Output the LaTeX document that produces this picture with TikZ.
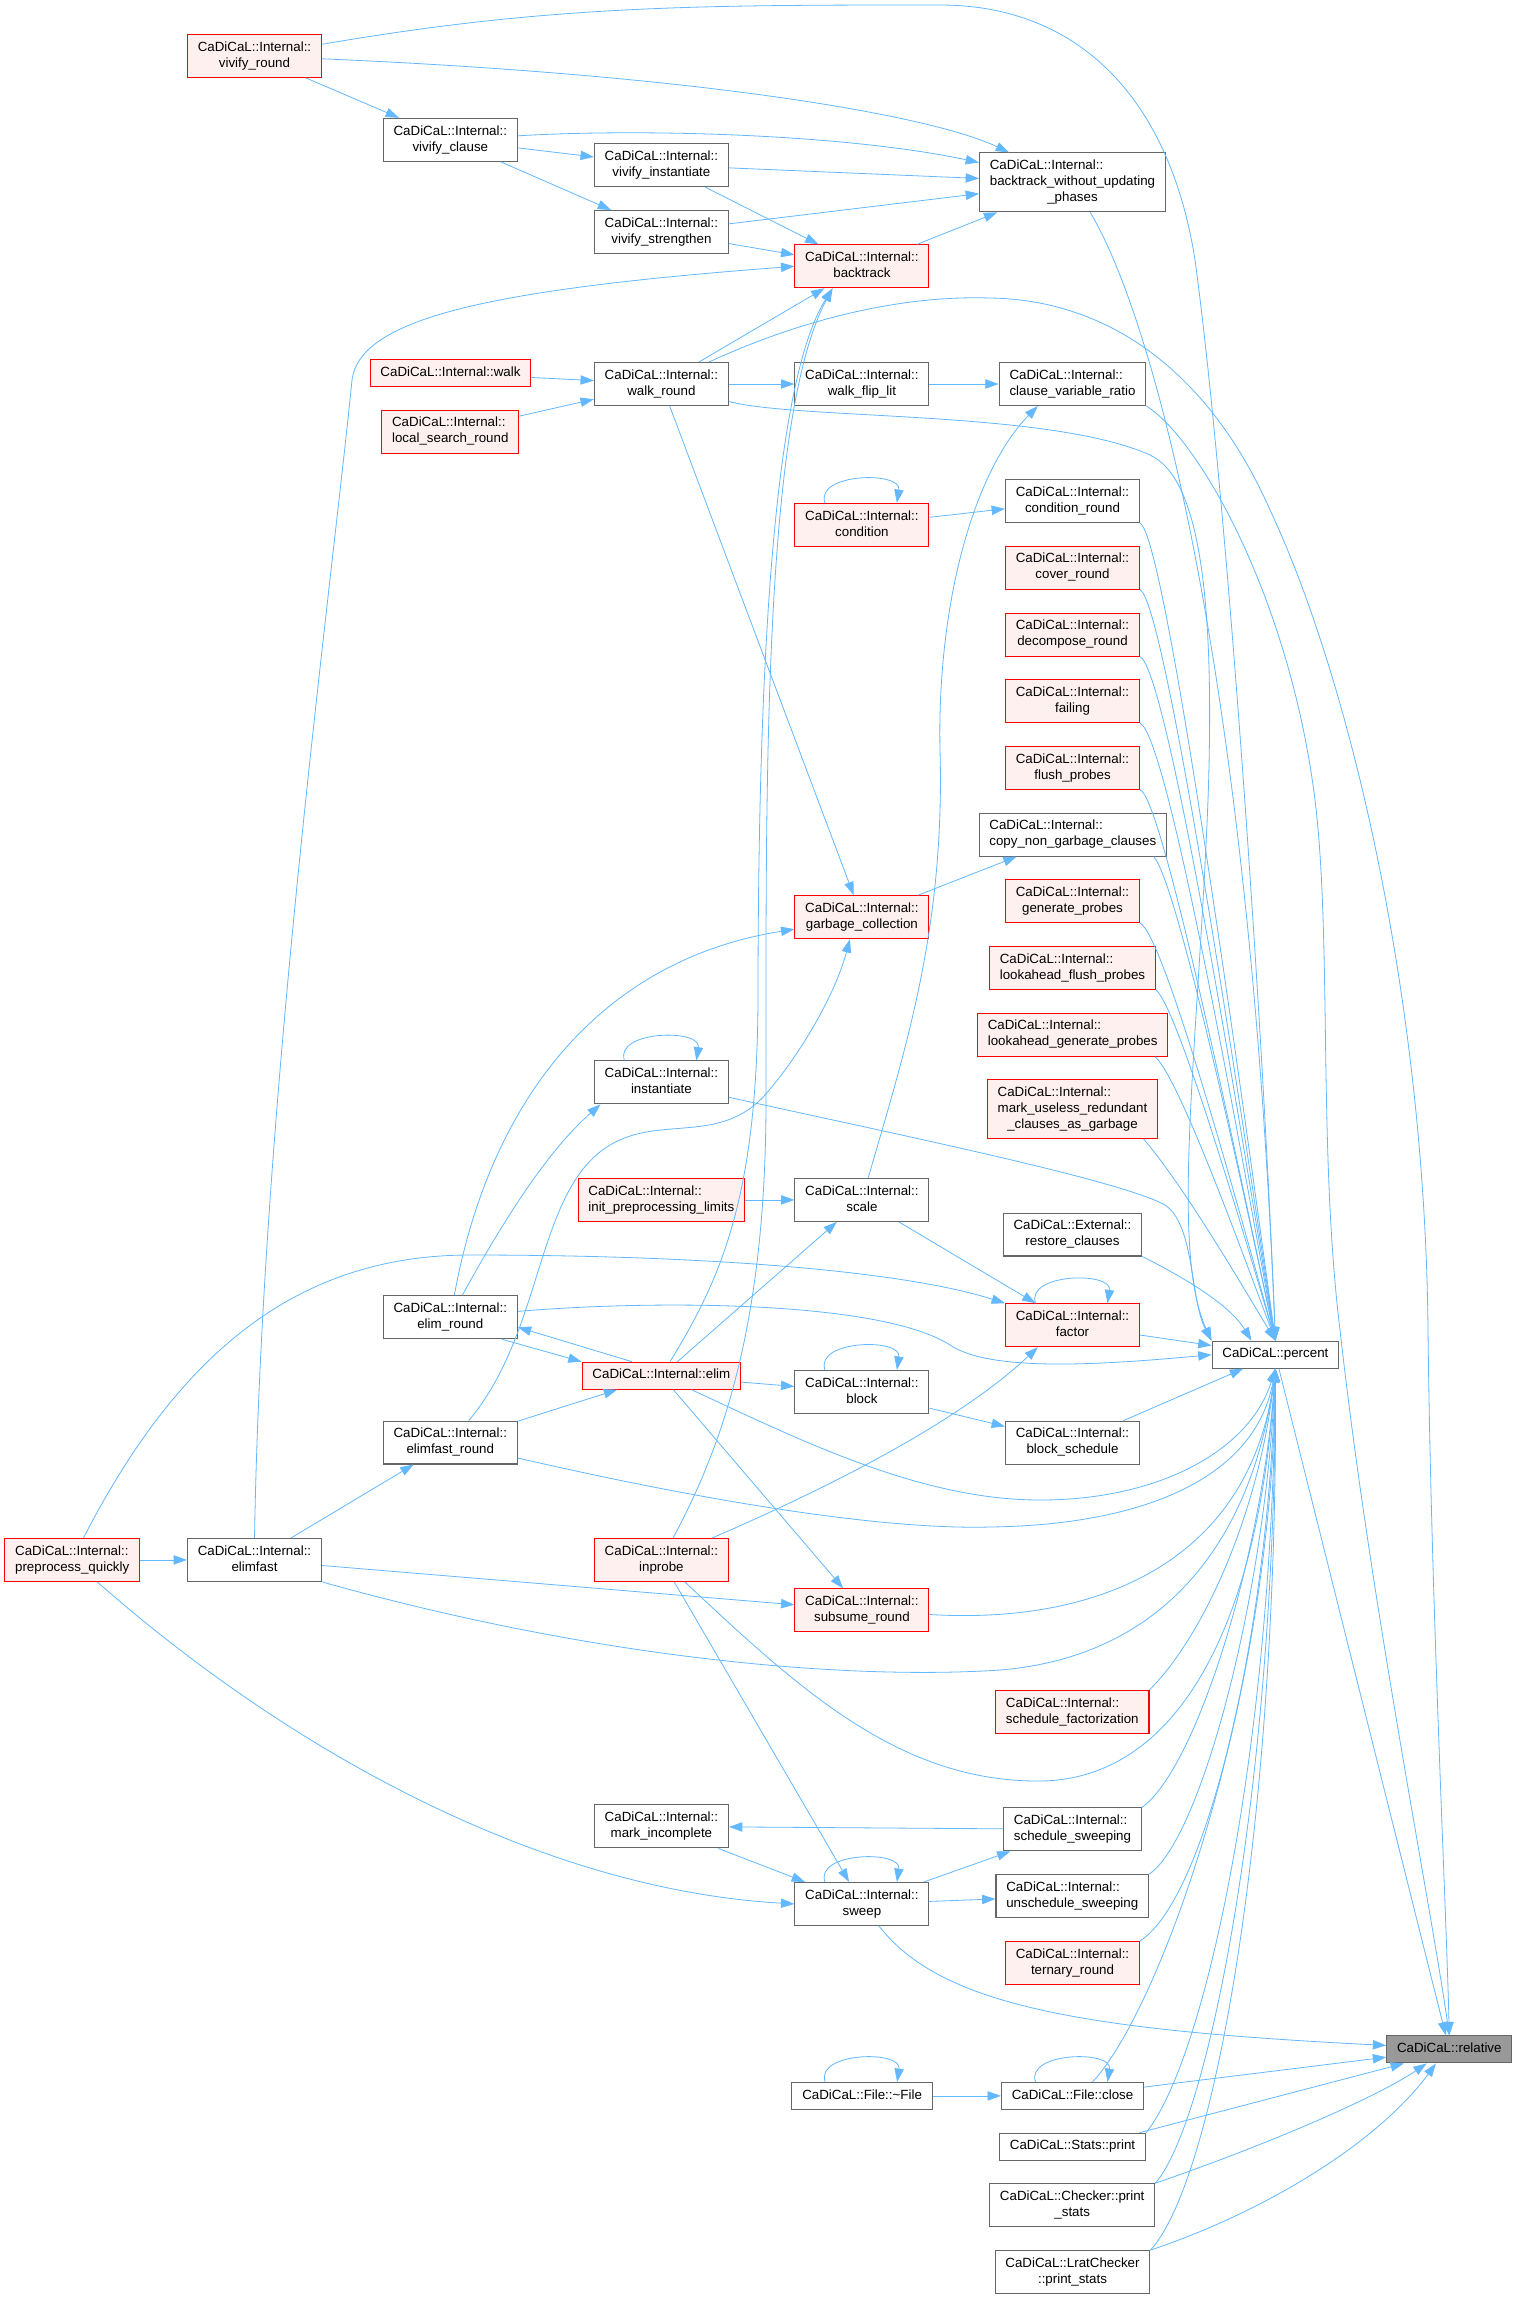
\documentclass[tikz,border=0pt]{standalone}
\usepackage{fontspec}
\setmainfont{Liberation Sans}
\usetikzlibrary{arrows.meta}
\definecolor{edgeblue}{HTML}{63B8FF}
\definecolor{boxgray}{HTML}{666666}
\definecolor{hotred}{HTML}{FF0000}
\definecolor{hotfill}{HTML}{FFF0F0}
\definecolor{rootgray}{HTML}{999999}
\newcommand{\fnlabel}[2]{\begin{tabular}{@{}l@{}}#1\\\multicolumn{1}{@{}c@{}}{#2}\end{tabular}}
\newcommand{\fnone}[1]{\begin{tabular}{@{}c@{}}#1\end{tabular}}
\newcommand{\cadint}[1]{\fnlabel{CaDiCaL::Internal::}{#1}}
\begin{document}
\begin{tikzpicture}[x=0.75pt, y=-0.75pt,
fn/.style={draw=boxgray, fill=white, line width=0.8pt, inner xsep=7.75pt, inner ysep=4.1pt, font=\fontsize{10}{12}\selectfont},
hot/.style={fn, draw=hotred, fill=hotfill},
root/.style={fn, fill=rootgray},
call/.style={draw=edgeblue, line width=0.6pt, -{Triangle[length=10pt,width=7pt]}}
]
\path[use as bounding box, fill=white] (0,0) rectangle (1517,2299);

\node[hot] (vround) at (254.5,55.9) {\cadint{vivify\_round}};
\node[fn] (vclause) at (450.3,139.8) {\cadint{vivify\_clause}};
\node[fn] (vinst) at (661.4,165) {\cadint{vivify\_instantiate}};
\node[fn] (vstren) at (661.4,232) {\cadint{vivify\_strengthen}};
\node[fn] (btwup) at (1072.5,182.4) {\fnlabel{CaDiCaL::Internal::\\backtrack\_without\_updating}{\_phases}};
\node[hot] (backtrack) at (861.9,266.3) {\cadint{backtrack}};
\node[hot] (walk) at (450.5,373.4) {\fnone{CaDiCaL::Internal::walk}};
\node[hot] (lsround) at (450.3,431.7) {\cadint{local\_search\_round}};
\node[fn] (walkround) at (661.4,384) {\cadint{walk\_round}};
\node[fn] (flip) at (861.9,384) {\cadint{walk\_flip\_lit}};
\node[fn] (cvr) at (1072.5,384) {\cadint{clause\_variable\_ratio}};
\node[hot] (condition) at (861.9,524.9) {\cadint{condition}};
\node[fn] (condround) at (1072.5,501.2) {\cadint{condition\_round}};
\node[hot] (cover) at (1072.5,567.6) {\cadint{cover\_round}};
\node[hot] (decomp) at (1072.5,634.7) {\cadint{decompose\_round}};
\node[hot] (failing) at (1072.5,701.2) {\cadint{failing}};
\node[hot] (flush) at (1072.5,767.8) {\cadint{flush\_probes}};
\node[fn] (copyng) at (1072.8,834.6) {\cadint{copy\_non\_garbage\_clauses}};
\node[hot] (gc) at (861.9,917.2) {\cadint{garbage\_collection}};
\node[hot] (genprobes) at (1072.5,901) {\cadint{generate\_probes}};
\node[hot] (laflush) at (1072.5,968) {\cadint{lookahead\_flush\_probes}};
\node[hot] (lagen) at (1072.7,1034.7) {\cadint{lookahead\_generate\_probes}};
\node[hot] (markuseless) at (1072.5,1109) {\fnlabel{CaDiCaL::Internal::\\mark\_useless\_redundant}{\_clauses\_as\_garbage}};
\node[fn] (instantiate) at (661.4,1082.4) {\cadint{instantiate}};
\node[hot] (initlimits) at (661.4,1199.9) {\cadint{init\_preprocessing\_limits}};
\node[fn] (scale) at (861.9,1199.9) {\cadint{scale}};
\node[fn] (restore) at (1072.5,1234.5) {\fnlabel{CaDiCaL::External::}{restore\_clauses}};
\node[hot] (factor) at (1072.5,1325.2) {\cadint{factor}};
\node[fn] (percent) at (1275.4,1354.7) {\fnone{CaDiCaL::percent}};
\node[fn] (elimround) at (450.3,1317.2) {\cadint{elim\_round}};
\node[hot] (elim) at (661.4,1375.7) {\fnone{CaDiCaL::Internal::elim}};
\node[fn] (block) at (861.9,1391.8) {\cadint{block}};
\node[fn] (blocksched) at (1072.5,1442.7) {\cadint{block\_schedule}};
\node[fn] (elimfastround) at (450.3,1442.5) {\cadint{elimfast\_round}};
\node[hot] (pquick) at (72.2,1559.9) {\cadint{preprocess\_quickly}};
\node[fn] (elimfast) at (254.5,1559.9) {\cadint{elimfast}};
\node[hot] (inprobe) at (661.4,1559.9) {\cadint{inprobe}};
\node[hot] (subsume) at (861.9,1610.3) {\cadint{subsume\_round}};
\node[hot] (schedfact) at (1072.3,1711.8) {\cadint{schedule\_factorization}};
\node[fn] (markinc) at (661.4,1826.4) {\cadint{mark\_incomplete}};
\node[fn] (schedsweep) at (1072.5,1829.3) {\cadint{schedule\_sweeping}};
\node[fn] (sweep) at (861.9,1903.9) {\cadint{sweep}};
\node[fn] (unschedsweep) at (1072.3,1896.1) {\cadint{unschedule\_sweeping}};
\node[hot] (ternary) at (1072.5,1962.8) {\cadint{ternary\_round}};
\node[root] (relative) at (1449.3,2049.4) {\fnone{CaDiCaL::relative}};
\node[fn] (dtor) at (862.1,2095.9) {\fnone{CaDiCaL::File::\textasciitilde File}};
\node[fn] (close) at (1072.5,2095.9) {\fnone{CaDiCaL::File::close}};
\node[fn] (statsprint) at (1072.5,2146.7) {\fnone{CaDiCaL::Stats::print}};
\node[fn] (checker) at (1072.2,2205.2) {\fnlabel{CaDiCaL::Checker::print}{\_stats}};
\node[fn] (lrat) at (1072.5,2272.1) {\fnlabel{CaDiCaL::LratChecker}{::print\_stats}};

\foreach \n in {condition,instantiate,factor,block,sweep,dtor,close}
  \draw[call] ([xshift=-27.75pt]\n.north) .. controls +(-10,-30) and +(5,-32) .. ([xshift=26.25pt]\n.north);

\draw[call] (vround) -- (vclause);
\draw[call] (vround) .. controls (700,75) and (930,115) .. (btwup);
\draw[call] (vround) .. controls (550,5) and (700,5) .. (940,5) .. controls (1080,5) and (1170,100) .. (1195,260) .. controls (1225,480) and (1262,1000) .. (percent.north);
\draw[call] (vclause) -- (vinst);
\draw[call] (vclause) -- (vstren);
\draw[call] (vclause) .. controls (650,128) and (850,135) .. (btwup);
\draw[call] (vinst) -- (btwup);
\draw[call] (vinst) -- (backtrack);
\draw[call] (vstren) -- (btwup);
\draw[call] (vstren) -- (backtrack);
\draw[call] (backtrack) -- (btwup);
\draw[call] (btwup) .. controls (1160,330) and (1250,700) .. (percent.north);

\draw[call] (walk) -- (walkround);
\draw[call] (lsround) -- (walkround);
\draw[call] (walkround) -- (backtrack);
\draw[call] (walkround) -- (flip);
\draw[call] (walkround) -- (gc);
\draw[call] (flip) -- (cvr);
\draw[call] (walkround) .. controls (800,320) and (900,295) .. (990,298) .. controls (1120,300) and (1215,385) .. (1270,510) .. controls (1350,680) and (1425,1000) .. (1428,1330) .. controls (1431,1600) and (1446,1900) .. (relative.north);
\draw[call] (walkround) .. controls (800,420) and (1050,410) .. (1150,455) .. controls (1200,478) and (1215,600) .. (1208,800) .. controls (1198,1050) and (1170,1250) .. (percent.north west);
\draw[call] (cvr.south east) .. controls (1200,440) and (1290,600) .. (1315,800) .. controls (1332,940) and (1318,1150) .. (1340,1330) .. controls (1370,1600) and (1430,1900) .. (relative.north);

\draw[call] (condition) -- (condround);
\draw[call] (condround.south east) .. controls (1165,536) and (1237,1059) .. (percent.north);
\draw[call] (cover.south east) .. controls (1165,603) and (1237,1083) .. (percent.north);
\draw[call] (decomp.south east) .. controls (1167,670) and (1237,1106) .. (percent.north);
\draw[call] (failing.south east) .. controls (1167,735) and (1237,1129) .. (percent.north);
\draw[call] (flush.south east) .. controls (1162,797) and (1235,1151) .. (percent.north);
\draw[call] ([xshift=-10pt]copyng.south east) .. controls (1177,882) and (1241,1180) .. (percent.north);
\draw[call] (genprobes.south east) .. controls (1164,936) and (1236,1199) .. (percent.north);
\draw[call] (laflush.south east) .. controls (1177,1007) and (1241,1224) .. (percent.north);
\draw[call] ([xshift=-10pt]lagen.south east) .. controls (1179,1078) and (1241,1249) .. (percent.north);
\draw[call] ([xshift=-11pt]markuseless.south east) .. controls (1184,1186) and (1243,1287) .. (percent.north);

\draw[call] (gc) -- (copyng);
\draw[call] (elimround) .. controls (490,1100) and (600,960) .. ([yshift=-9pt]gc.west);
\draw[call] (elimfastround) .. controls (545,1330) and (535,1190) .. (610,1145) .. controls (660,1115) and (720,1145) .. (765,1095) .. controls (800,1055) and (835,995) .. ([xshift=-9pt]gc.south);
\draw[call] (elimround) .. controls (520,1190) and (560,1140) .. ([xshift=5pt]instantiate.south west);
\draw[call] (instantiate) .. controls (900,1135) and (1120,1180) .. (1165,1205) .. controls (1195,1225) and (1190,1300) .. (percent.north west);

\draw[call] (initlimits) -- (scale);
\draw[call] (scale) .. controls (905,1050) and (945,930) .. (940,750) .. controls (937,600) and (975,470) .. ([xshift=-26pt]cvr.south);
\draw[call] (scale) -- (factor);
\draw[call] (restore.south east) .. controls (1185,1278) and (1230,1305) .. ([xshift=-18pt]percent.north);
\draw[call] (factor) -- (percent);
\draw[call] (pquick) .. controls (180,1350) and (300,1255) .. (470,1255) .. controls (700,1255) and (900,1270) .. (factor.north west);
\draw[call] (inprobe) .. controls (800,1500) and (950,1430) .. ([xshift=-26pt]factor.south);

\draw[call] ([xshift=-12pt]elimround.south east) -- (elim.north west);
\draw[call] ([xshift=-22pt]elim.north) -- ([yshift=-7.5pt]elimround.east);
\draw[call] (elimround) .. controls (650,1300) and (880,1300) .. (950,1345) .. controls (990,1372) and (1100,1365) .. (percent.west);
\draw[call] (elimfastround) -- (elim);
\draw[call] (elim) -- (scale);
\draw[call] (elim) -- (block);
\draw[call] (elim) -- (subsume);
\draw[call] (elim) .. controls (720,1280) and (757,1200) .. (758,1000) .. controls (758,650) and (775,380) .. ([xshift=-22pt]backtrack.south);
\draw[call] (elim) .. controls (800,1440) and (920,1500) .. (1040,1500) .. controls (1160,1500) and (1250,1450) .. (percent.south);

\draw[call] (pquick) -- (elimfast);
\draw[call] (elimfast) -- (elimfastround);
\draw[call] (elimfast) -- (subsume);
\draw[call] (elimfast.north) .. controls (262,1100) and (330,600) .. (352,380) .. controls (360,320) and (480,290) .. (backtrack.west);
\draw[call] (elimfast.south east) .. controls (600,1660) and (850,1680) .. (1000,1670) .. controls (1180,1655) and (1255,1520) .. (percent.south);
\draw[call] (elimfastround) .. controls (700,1500) and (880,1530) .. (990,1527) .. controls (1140,1525) and (1255,1480) .. (percent.south);

\draw[call] (block) -- (blocksched);
\draw[call] (blocksched) -- (percent);

\draw[call] (inprobe) .. controls (720,1450) and (766,1330) .. (766,1100) .. controls (766,800) and (762,420) .. ([xshift=-22pt]backtrack.south);
\draw[call] (inprobe) -- (sweep);
\draw[call] (inprobe) .. controls (800,1690) and (900,1782) .. (1040,1781) .. controls (1170,1780) and (1258,1640) .. (percent.south);
\draw[call] (subsume) .. controls (1100,1625) and (1250,1560) .. (percent.south);
\draw[call] (schedfact.north east) .. controls (1200,1640) and (1258,1520) .. (percent.south);

\draw[call] (pquick) .. controls (300,1760) and (550,1890) .. (sweep.west);
\draw[call] (markinc) -- (sweep);
\draw[call] (schedsweep) -- (markinc);
\draw[call] (sweep) -- (schedsweep);
\draw[call] (sweep) -- (unschedsweep);
\draw[call] (sweep) .. controls (940,2005) and (1080,2030) .. ([yshift=3pt]relative.west);
\draw[call] (schedsweep.north east) .. controls (1195,1770) and (1262,1560) .. (percent.south);
\draw[call] (unschedsweep.north east) .. controls (1200,1840) and (1265,1600) .. (percent.south);
\draw[call] (ternary.north east) .. controls (1205,1900) and (1268,1640) .. (percent.south);

\draw[call] (dtor) -- (close);
\draw[call] ([xshift=15pt]close.north) .. controls (1160,2010) and (1272,1700) .. (percent.south);
\draw[call] (close) -- (relative);
\draw[call] (statsprint.north east) .. controls (1205,2060) and (1272,1750) .. (percent.south);
\draw[call] ([xshift=-5pt]statsprint.north east) -- ([xshift=-34pt]relative.south);
\draw[call] (checker.north east) .. controls (1210,2120) and (1275,1780) .. (percent.south);
\draw[call] (checker.north east) .. controls (1280,2140) and (1380,2095) .. ([xshift=-17pt]relative.south);
\draw[call] (lrat.north east) .. controls (1215,2180) and (1278,1820) .. (percent.south);
\draw[call] (lrat.north east) .. controls (1270,2210) and (1380,2140) .. ([xshift=-10pt]relative.south);
\draw[call] (percent) -- (relative);
\end{tikzpicture}
\end{document}
